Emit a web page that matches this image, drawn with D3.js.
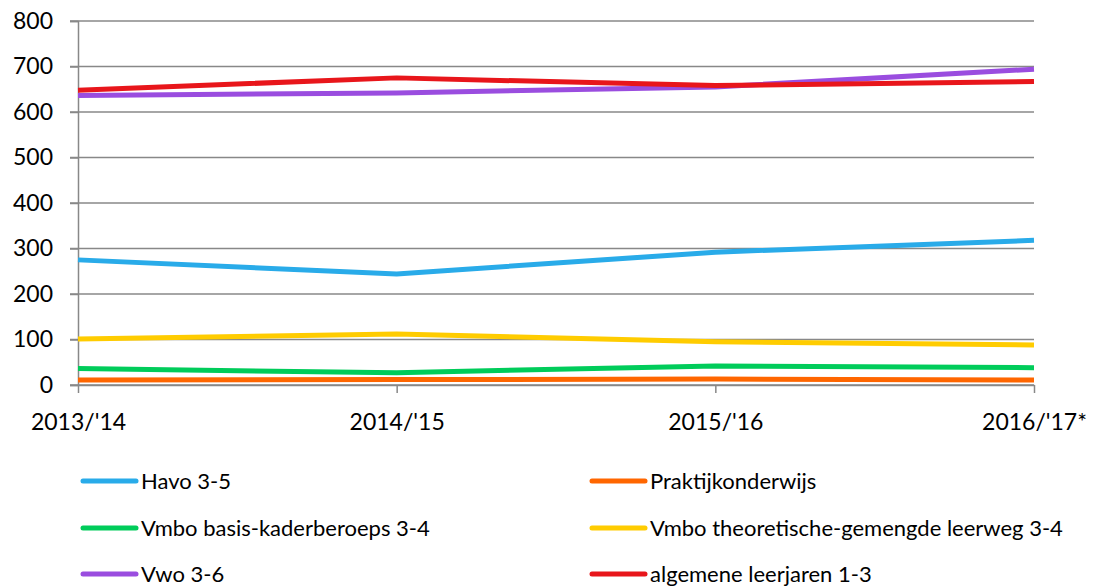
<!DOCTYPE html>
<html lang="nl">
<head>
<meta charset="UTF-8">
<title>Leerlingen per schooljaar</title>
<script src="https://cdnjs.cloudflare.com/ajax/libs/d3/7.8.5/d3.min.js"></script>
<style>
  body { margin: 0; background: #ffffff; }
  text { font-family: Lato, "Open Sans", sans-serif; fill: #000; }
</style>
</head>
<body>
<script>
// schooljaren langs de x-as
var years = ["2013/'14", "2014/'15", "2015/'16", "2016/'17*"];
var yTicks = [0, 100, 200, 300, 400, 500, 600, 700, 800];

var seriesNames = ["Havo 3-5", "Praktijkonderwijs", "Vmbo basis-kaderberoeps 3-4",
                   "Vmbo theoretische-gemengde leerweg 3-4", "Vwo 3-6", "algemene leerjaren 1-3"];
var havo      = [275, 244, 292, 318];
var praktijk  = [11, 12, 13, 11];
var vmboBasis = [36, 27, 42, 38];
var vmboTheor = [101, 112, 95, 88];
var vwo       = [636, 642, 655, 694];
var algemeen  = [648, 675, 658, 667];
var seriesColors = ["#29abe9", "#ff6600", "#00cc5a", "#ffcc00", "#9a4ddf", "#e8161b"];

var seriesValues = [havo, praktijk, vmboBasis, vmboTheor, vwo, algemeen];

var width = 1094, height = 588;
var svg = d3.select("body").append("svg")
    .attr("width", width)
    .attr("height", height);

// schalen: punten op de tick-marks
var x = d3.scalePoint().domain(years).range([78, 1034]);
var y = d3.scaleLinear().domain([0, 800]).range([385, 21]);

// rasterlijnen
svg.append("g")
    .selectAll("line")
    .data(yTicks)
    .enter().append("line")
    .attr("x1", 70).attr("x2", 1034)
    .attr("y1", function(d){ return y(d); })
    .attr("y2", function(d){ return y(d); })
    .attr("stroke", "#888888")
    .attr("stroke-width", 1.5);

// y-as
var yAxis = d3.axisLeft(y).tickValues(yTicks).tickSize(8).tickPadding(17);
var gy = svg.append("g").attr("transform", "translate(78,0)").call(yAxis);
gy.select(".domain").attr("stroke", "#888888").attr("stroke-width", 1.5);
gy.selectAll(".tick line").attr("stroke", "#888888").attr("stroke-width", 1.5);
gy.selectAll(".tick text")
    .style("font-size", "23px")
    .style("font-family", "Lato, 'Open Sans', sans-serif");

// x-as
var xAxis = d3.axisBottom(x).tickSize(8).tickSizeOuter(0).tickPadding(21);
var gx = svg.append("g").attr("transform", "translate(0,385)").call(xAxis);
gx.select(".domain").attr("stroke", "#888888").attr("stroke-width", 1.5);
gx.selectAll(".tick line").attr("stroke", "#888888").attr("stroke-width", 1.5);
gx.selectAll(".tick text")
    .style("font-size", "23px")
    .style("font-family", "Lato, 'Open Sans', sans-serif");

// lijnen
var line = d3.line()
    .x(function(d, i){ return x(years[i]); })
    .y(function(d){ return y(d); });

svg.append("g")
    .selectAll("path")
    .data(seriesValues)
    .enter().append("path")
    .attr("d", line)
    .attr("fill", "none")
    .attr("stroke", function(d, i){ return seriesColors[i]; })
    .attr("stroke-width", 5)
    .attr("stroke-linejoin", "round");

// legenda, twee kolommen
var legendX = [83, 592];
var legendY = [481, 528, 574];
var legend = svg.append("g")
    .selectAll("g")
    .data(seriesNames)
    .enter().append("g")
    .attr("transform", function(d, i){
        return "translate(" + legendX[i % 2] + "," + legendY[Math.floor(i / 2)] + ")";
    });
legend.append("line")
    .attr("x1", 0).attr("x2", 53)
    .attr("stroke", function(d, i){ return seriesColors[i]; })
    .attr("stroke-width", 5)
    .attr("stroke-linecap", "round");
legend.append("text")
    .attr("x", 58)
    .attr("dy", "0.35em")
    .style("font-size", "22px")
    .text(function(d){ return d; });
</script>
</body>
</html>
